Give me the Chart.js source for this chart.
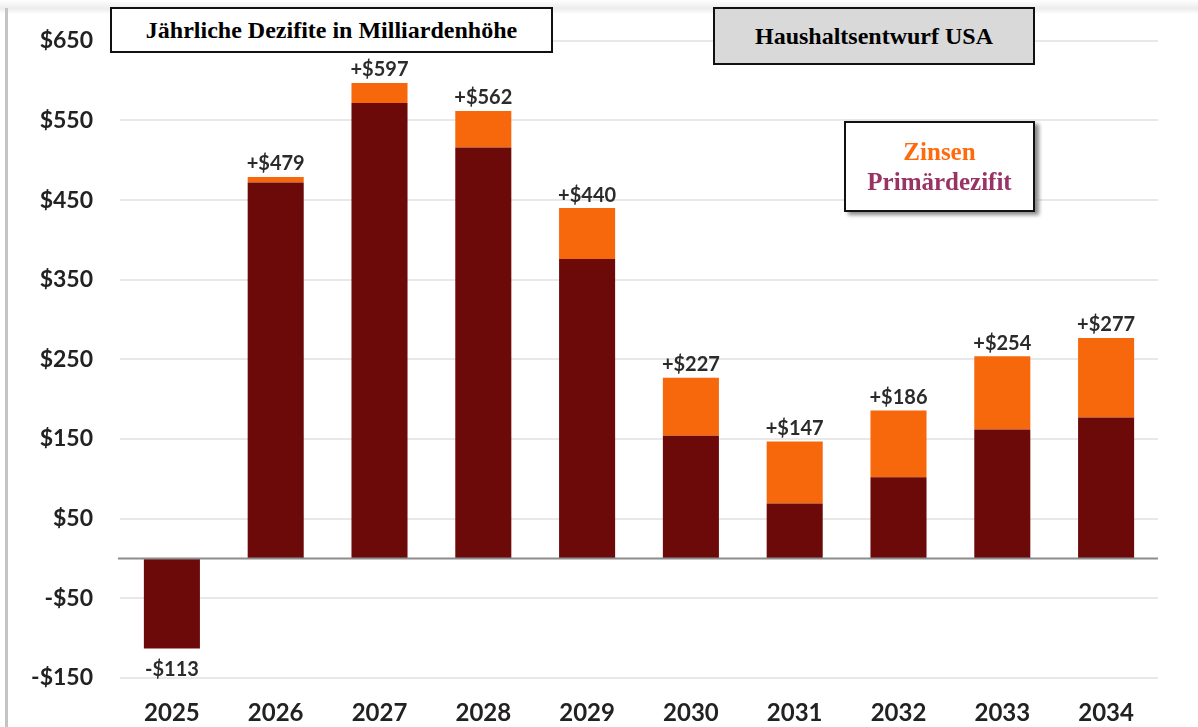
<!DOCTYPE html>
<html lang="de">
<head>
<meta charset="UTF-8">
<title>Haushaltsentwurf USA</title>
<script src="https://cdn.jsdelivr.net/npm/chart.js"></script>
<style>
  html, body { margin: 0; padding: 0; background: #fff; }
  .frame { position: relative; width: 1198px; height: 727px; overflow: hidden; }
  .frame::before { content: ""; position: absolute; left: 0; top: 0; width: 1198px; height: 14px;
    background: linear-gradient(#fff, #ececec 60%, #fff); }
  .frame::after { content: ""; position: absolute; left: 5px; top: 8px; width: 3px; height: 719px; background: #c4c4c4; }
  canvas { position: absolute; left: 0; top: 0; }
  .box { position: absolute; box-sizing: border-box; border: 2px solid #111; text-align: center;
    font-family: "Liberation Serif", "Times New Roman", serif; font-weight: bold; }
  #title { left: 110px; top: 7px; width: 443px; height: 46px; background: #fff; font-size: 24px; line-height: 42px; }
  #plan { left: 713px; top: 7px; width: 322px; height: 58px; background: #d9d9d9; font-size: 24px; line-height: 54px; }
  #legend { left: 844px; top: 121px; width: 191px; height: 91px; background: #fff; font-size: 25px;
    line-height: 30px; padding-top: 14px; box-shadow: 4px 3px 4px #8a8a8a; }
  #legend .z { color: #ff6a0d; }
  #legend .p { color: #993366; }
</style>
</head>
<body>
<div class="frame">
  <canvas id="chart" width="1198" height="727"></canvas>
  <div class="box" id="title">Jährliche Dezifite in Milliardenhöhe</div>
  <div class="box" id="plan">Haushaltsentwurf USA</div>
  <div class="box" id="legend"><div class="z">Zinsen</div><div class="p">Primärdezifit</div></div>
</div>
<script>
  // Jahre und Werte (Mrd. $)
  const years = ['2025', '2026', '2027', '2028', '2029', '2030', '2031', '2032', '2033', '2034'];
  const primary = [-113, 472, 572, 516, 376, 154, 69, 102, 162, 177];
  const interest = [0, 7, 25, 46, 64, 73, 78, 84, 92, 100];
  const totals = [-113, 479, 597, 562, 440, 227, 147, 186, 254, 277];

  const darkRed = '#6c0a0a';
  const orange = '#f7680d';

  // Nulllinie
  const zeroLine = {
    id: 'zeroLine',
    afterDatasetsDraw(chart) {
      const { ctx, chartArea, scales } = chart;
      const y = scales.y.getPixelForValue(0);
      ctx.save();
      ctx.strokeStyle = '#8c8c8c';
      ctx.lineWidth = 2;
      ctx.beginPath();
      ctx.moveTo(chartArea.left - 2, y);
      ctx.lineTo(chartArea.right, y);
      ctx.stroke();
      ctx.restore();
    }
  };

  // Summen über bzw. unter den Balken
  const totalLabels = {
    id: 'totalLabels',
    afterDatasetsDraw(chart) {
      const { ctx } = chart;
      const top = chart.getDatasetMeta(1).data;
      const base = chart.getDatasetMeta(0).data;
      ctx.save();
      ctx.font = 'bold 20px Lato';
      ctx.fillStyle = '#2b2b2b';
      ctx.textAlign = 'center';
      totals.forEach((t, i) => {
        if (t >= 0) {
          ctx.textBaseline = 'bottom';
          ctx.fillText('+$' + t, top[i].x, top[i].y - 3);
        } else {
          ctx.textBaseline = 'top';
          ctx.fillText('-$' + Math.abs(t), base[i].x, base[i].y + 11);
        }
      });
      ctx.restore();
    }
  };

  new Chart(document.getElementById('chart'), {
    type: 'bar',
    data: {
      labels: years,
      datasets: [
        { label: 'Primärdezifit', data: primary, backgroundColor: darkRed },
        { label: 'Zinsen', data: interest, backgroundColor: orange }
      ]
    },
    options: {
      responsive: false,
      animation: false,
      layout: { padding: { top: 38, right: 40, left: 0, bottom: 0 } },
      datasets: { bar: { categoryPercentage: 1, barPercentage: 0.54 } },
      scales: {
        x: {
          stacked: true,
          grid: { display: false, drawTicks: false },
          border: { display: false },
          ticks: { color: '#222', font: { family: 'Lato', weight: 'bold', size: 24 }, padding: 21, maxRotation: 0, autoSkip: false },
          afterFit(scale) { scale.height = 49; }
        },
        y: {
          stacked: true,
          min: -150,
          max: 650,
          ticks: {
            stepSize: 100,
            color: '#222',
            padding: 27,
            font: { family: 'Lato', weight: 'bold', size: 23 },
            callback: v => (v < 0 ? '-$' + Math.abs(v) : '$' + v)
          },
          grid: { color: '#e8e8e8', lineWidth: 2, drawTicks: false },
          border: { display: false },
          afterFit(scale) { scale.width = 120; }
        }
      },
      plugins: {
        legend: { display: false },
        tooltip: { enabled: false }
      }
    },
    plugins: [zeroLine, totalLabels]
  });
</script>
</body>
</html>
